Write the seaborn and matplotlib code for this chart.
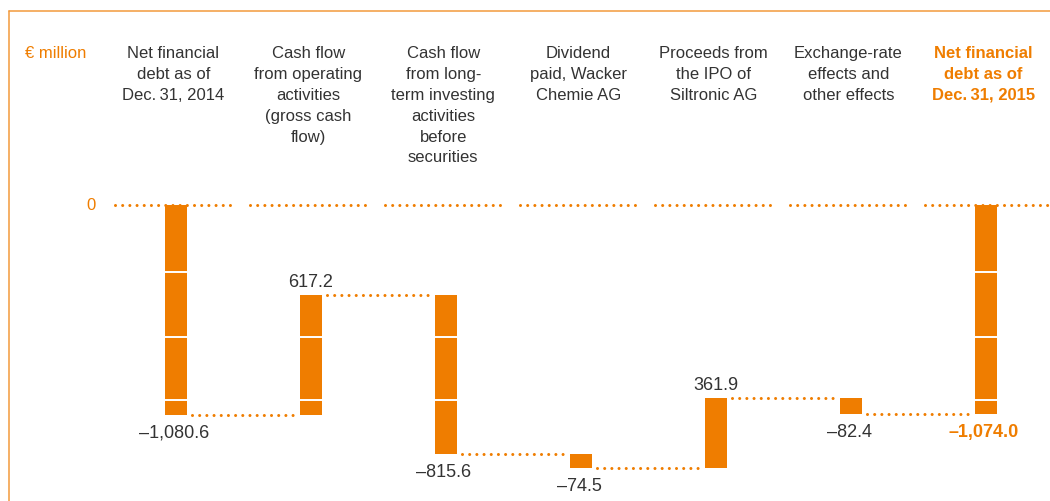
import matplotlib.pyplot as plt
import pandas as pd
import seaborn as sns

# chart data
categories = [
    "Net financial\ndebt as of\nDec.\u200931, 2014",
    "Cash flow\nfrom operating\nactivities\n(gross cash\nflow)",
    "Cash flow\nfrom long-\nterm investing\nactivities\nbefore\nsecurities",
    "Dividend\npaid, Wacker\nChemie AG",
    "Proceeds from\nthe IPO of\nSiltronic AG",
    "Exchange-rate\neffects and\nother effects",
    "Net financial\ndebt as of\nDec.\u200931, 2015",
]
values = [-1080.6, 617.2, -815.6, -74.5, 361.9, -82.4, -1074.0]
is_total = [True, False, False, False, False, False, True]
value_labels = ["\u20131,080.6", "617.2", "\u2013815.6", "\u201374.5", "361.9", "\u201382.4", "\u20131,074.0"]
unit_label = "\u20ac million"
separator_levels = [-343, -678, -1006]  # white cuts drawn across the tall bars

orange = "#ef7d00"
frame_orange = "#f29a3c"
text_grey = "#333333"

# pixel geometry of the reference (1050 x 502)
fig_w, fig_h = 1050, 502
first_center = 176   # px
col_step = 135       # px between columns
zero_px = 206        # px from top
px_per_unit = 0.1943

sns.set_style("white")
plt.rcParams["font.family"] = ["Liberation Sans", "DejaVu Sans"]

# waterfall bottoms / ends
bottoms = []
running = 0.0
for v, total in zip(values, is_total):
    if total:
        bottoms.append(0.0)
        running = v
    else:
        bottoms.append(running)
        running += v
ends = [b + v for b, v in zip(bottoms, values)]

df = pd.DataFrame({"category": categories, "value": values, "bottom": bottoms})

fig = plt.figure(figsize=(fig_w / 100, fig_h / 100), dpi=100)
ax = fig.add_axes([0, 0, 1, 1])

bar_width = 22 / col_step
sns.barplot(data=df, x="category", y="value", bottom=df["bottom"].values,
            color=orange, saturation=1, width=bar_width, errorbar=None,
            linewidth=0, zorder=2, ax=ax)

xlim = (-first_center / col_step, (fig_w - first_center) / col_step)
ylim = (-(fig_h - zero_px) / px_per_unit, zero_px / px_per_unit)
ax.set_xlim(*xlim)
ax.set_ylim(*ylim)
ax.axis("off")

dot_style = dict(color=orange, lw=2.2, linestyle=(0, (0.001, 2.35)),
                 dash_capstyle="round")

# dotted zero line, one piece per column
n = len(categories)
for i in range(n):
    right = i + 0.42 if i < n - 1 else xlim[1] + 0.1
    ax.plot([i - 0.45, right], [0, 0], zorder=1, **dot_style)

# white cuts across the bars (skipped near bar ends)
margin = 40
for i, (b, e) in enumerate(zip(bottoms, ends)):
    lo, hi = min(b, e), max(b, e)
    for lvl in separator_levels:
        if lo + margin < lvl < hi - margin:
            ax.plot([i - bar_width / 2 - 0.01, i + bar_width / 2 + 0.01], [lvl, lvl],
                    color="white", lw=1.4, zorder=3, solid_capstyle="butt")

# connectors between bars
gap = 0.04
for i in range(n - 1):
    ax.plot([i + bar_width / 2 + gap, i + 1 - bar_width / 2 - gap], [ends[i], ends[i]],
            zorder=4, **dot_style)

# value labels
for i, (v, e, lab) in enumerate(zip(values, ends, value_labels)):
    col = orange if i == n - 1 else text_grey
    weight = "bold" if i == n - 1 else "normal"
    if v >= 0:
        ax.annotate(lab, (i, e), xytext=(0, 9), textcoords="offset pixels",
                    ha="center", va="baseline", fontsize=13, color=col, fontweight=weight)
    else:
        ax.annotate(lab, (i, e), xytext=(-2, -9), textcoords="offset pixels",
                    ha="center", va="top", fontsize=13, color=col, fontweight=weight)

# category headers
head_y = (zero_px - 46) / px_per_unit
for i, cat in enumerate(categories):
    col = orange if i == n - 1 else text_grey
    weight = "bold" if i == n - 1 else "normal"
    ax.text(i - 0.02, head_y, cat, ha="center", va="top", fontsize=12, color=col,
            fontweight=weight, linespacing=1.49)

ax.text((25 - first_center) / col_step, head_y, unit_label, ha="left", va="top",
        fontsize=12, color=orange)
ax.text((96 - first_center) / col_step, 0, "0", ha="right", va="center",
        fontsize=12, color=orange)

# frame (top and left edges)
fx = 9 / fig_w
fy = 1 - 12 / fig_h
ax.plot([fx, 1.0], [fy, fy], transform=ax.transAxes, color=frame_orange, lw=1.1,
        clip_on=False)
ax.plot([fx, fx], [fy, 0.0], transform=ax.transAxes, color=frame_orange, lw=1.1,
        clip_on=False)

fig.savefig("out.png", dpi=100)
plt.close(fig)
